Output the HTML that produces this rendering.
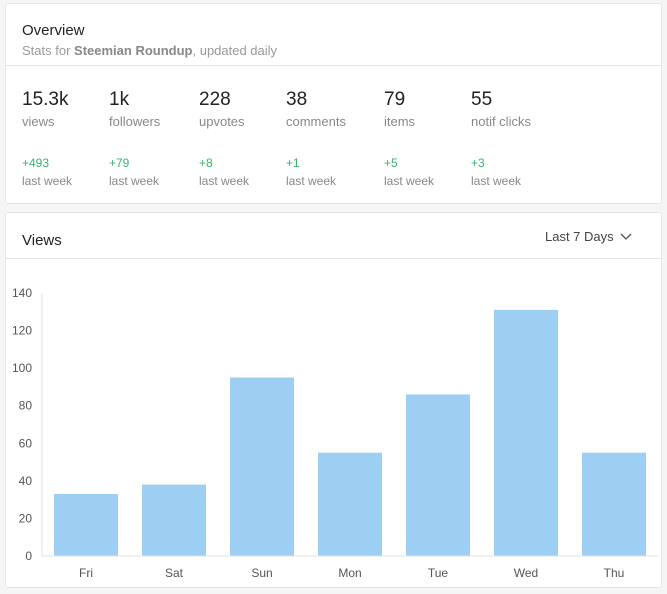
<!DOCTYPE html>
<html><head><meta charset="utf-8"><style>
body{margin:0;width:667px;height:594px;background:#f5f5f5;font-family:"Liberation Sans",sans-serif;position:relative;overflow:hidden}
.card{position:absolute;left:5px;width:657px;background:#fff;border:1px solid #e6e6e6;border-radius:3px;box-sizing:border-box}
.abs{position:absolute;white-space:nowrap}
.num{font-size:19px;color:#222;top:85px}
.lbl{font-size:13px;color:#888;top:110px}
.inc{font-size:12px;color:#3cb371;top:152px}
.lw{font-size:12px;color:#888;top:170px}
</style></head><body>
<div class="card" style="top:3px;height:201px">
  <div class="abs" style="left:16px;top:18px;font-size:15px;color:#222">Overview</div>
  <div class="abs" style="left:16px;top:39px;font-size:13px;color:#999">Stats for <b style="color:#888">Steemian Roundup</b>, updated daily</div>
  <div class="abs" style="left:0;top:61px;width:655px;border-top:1px solid #e6e6e6"></div>
  <div id="stats"></div>
</div>
<div class="card" style="top:212px;height:376px">
  <div class="abs" style="left:16px;top:19px;font-size:15px;color:#222">Views</div>
  <div class="abs" style="left:539px;top:16px;font-size:13px;color:#444">Last 7 Days <svg width="12" height="8" style="margin-left:3px"><path d="M1 1 L6 6 L11 1" stroke="#555" fill="none" stroke-width="1.3"/></svg></div>
  <div class="abs" style="left:0;top:45px;width:655px;border-top:1px solid #e6e6e6"></div>
</div>
<svg id="chart" width="667" height="594" style="position:absolute;left:0;top:0"></svg>
<script>
const stats=[["15.3k","views","+493"],["1k","followers","+79"],["228","upvotes","+8"],["38","comments","+1"],["79","items","+5"],["55","notif clicks","+3"]];
const statX=[16,103,193,280,378,465];
const s=document.getElementById('stats');
stats.forEach((d,i)=>{
  const g=document.createElement('div');
  
  
  g.innerHTML=`<div class="abs num" style="left:${statX[i]}px">${d[0]}</div><div class="abs lbl" style="left:${statX[i]}px">${d[1]}</div><div class="abs inc" style="left:${statX[i]}px">${d[2]}</div><div class="abs lw" style="left:${statX[i]}px">last week</div>`;
  s.appendChild(g);
});
const categories=["Fri","Sat","Sun","Mon","Tue","Wed","Thu"];
const views=[33,38,95,55,86,131,55];
const yTicks=[0,20,40,60,80,100,120,140];
const NS="http://www.w3.org/2000/svg";
const svg=document.getElementById('chart');
const x0=42,x1=658,y0=556,y1=293,yMax=140;
const band=(x1-x0)/categories.length;
const X=i=>x0+i*band;
const Y=v=>y0-(v/yMax)*(y0-y1);
function el(t,a){const e=document.createElementNS(NS,t);for(const k in a)e.setAttribute(k,a[k]);svg.appendChild(e);return e;}
yTicks.forEach(t=>{
  const e=el('text',{x:32,y:Y(t)+4,'text-anchor':'end','font-size':12,fill:'#555','font-family':'Liberation Sans,sans-serif'});
  e.textContent=t;
  
  
});
const ax=el('line',{x1:x0,y1:y1,x2:x0,y2:y0,stroke:'#e0e0e0'});


views.forEach((v,i)=>{
  const b=el('rect',{x:X(i)+12,y:Y(v),width:band-24,height:y0-Y(v),fill:'#9ccff2'});
  
  
  const t=el('text',{x:X(i)+band/2,y:577,'text-anchor':'middle','font-size':12,fill:'#555','font-family':'Liberation Sans,sans-serif'});
  t.textContent=categories[i];
  
  
});
const bx=el('line',{x1:x0,y1:y0,x2:x1,y2:y0,stroke:'#e0e0e0'});


</script>
</body></html>
